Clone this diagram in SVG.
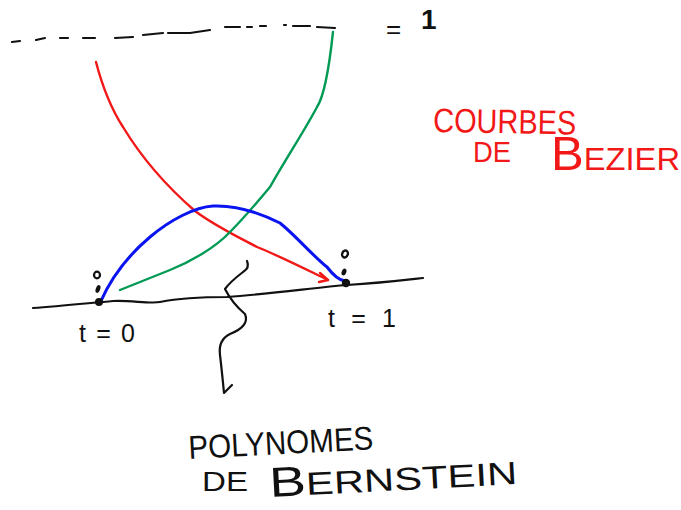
<svg xmlns="http://www.w3.org/2000/svg" width="681" height="510" viewBox="0 0 681 510">
<style>
.ink{fill:none;stroke:#111;stroke-width:2.2;stroke-linecap:round;stroke-linejoin:round}
.red{fill:none;stroke:#f21818;stroke-width:2.4;stroke-linecap:round;stroke-linejoin:round}
.grn{fill:none;stroke:#009a55;stroke-width:2.4;stroke-linecap:round;stroke-linejoin:round}
.blu{fill:none;stroke:#0a14f0;stroke-width:3;stroke-linecap:round;stroke-linejoin:round}
.t{font-family:"Liberation Sans",Arial,sans-serif;fill:#111}
.tr{font-family:"Liberation Sans",Arial,sans-serif;fill:#f21818}
.dot{fill:#111}
</style>
<rect width="681" height="510" fill="#fff"/>
<g id="top-line">
<path class="ink" d="M12 42 L20 41 M36 40 L45 38 M60 38 L68 38 M83 38 L95 38 M115 38 L133 37 M143 35 L163 33 M168 33 L190 33 L210 30 M225 27 L240 27 M247 27 L252 27 M260 26 L266 26 M284 25 L286 25 M293 26 L310 26 M317 27 L335 28"/>
<text class="t" x="386" y="38" font-size="26">=</text>
<text class="t" x="421" y="29" font-size="28" font-weight="bold">1</text>
</g>
<g id="axis">
<path class="ink" d="M33 308 C60 306 90 303 113 301 C130 300 150 304 160 302 C175 299 190 297 227 297 C270 294 320 287 347 285 C380 283 405 280 423 278"/>
</g>
<g id="connectors">
<path class="red" d="M96 62 C102 85 112 110 123 127 C140 155 165 185 195 211 C215 226 240 238 257 247 C275 254 295 264 328 280"/>
<path class="red" d="M320 273 L328 280 L319 282"/>
<path class="grn" d="M333 32 C330 60 325 95 317 107 C305 130 285 160 270 187 C255 205 240 222 230 232 C215 248 190 262 170 270 C150 278 135 284 120 290"/>
<path class="blu" d="M100 303 C110 280 125 258 150 237 C170 220 195 207 213 206 C235 205 260 213 280 223 C295 235 315 258 327 267 C333 275 338 280 345 281"/>
<path class="ink" d="M247 261 Q250 268 243 272 Q230 282 225 289 Q232 303 245 314 Q250 326 230 334 Q218 340 220 355 Q222 372 224 393 L232 385"/>
</g>
<g id="t0">
<circle class="dot" cx="99" cy="302" r="4"/>
<ellipse class="dot" cx="98" cy="289" rx="2.2" ry="4" transform="rotate(20 98 289)"/>
<ellipse cx="97" cy="275" rx="3" ry="3.3" fill="none" stroke="#111" stroke-width="2.2"/>
<text class="t" x="79" y="342" font-size="25" textLength="56" lengthAdjust="spacing">t=0</text>
</g>
<g id="t1">
<circle class="dot" cx="346" cy="283" r="4.2"/>
<ellipse class="dot" cx="344" cy="272" rx="2.3" ry="3.5" transform="rotate(20 344 272)"/>
<ellipse cx="345" cy="254" rx="2.8" ry="3.5" fill="none" stroke="#111" stroke-width="2.4" transform="rotate(20 345 254)"/>
<text class="t" x="328" y="327" font-size="25" textLength="68" lengthAdjust="spacing">t=1</text>
</g>
<g id="courbes">
<text class="tr" x="433" y="132" font-size="34" textLength="143" lengthAdjust="spacingAndGlyphs" transform="rotate(1 433 132)">COURBES</text>
<text class="tr" x="473" y="162" font-size="30" textLength="38" lengthAdjust="spacingAndGlyphs">DE</text>
<text class="tr" x="551" y="170" font-size="32" textLength="129" lengthAdjust="spacingAndGlyphs"><tspan font-size="48">B</tspan>EZIER</text>
</g>
<g id="bernstein">
<text class="t" x="189" y="459" font-size="33" textLength="185" lengthAdjust="spacingAndGlyphs" transform="rotate(-3 189 459)">POLYNOMES</text>
<text class="t" x="202" y="491" font-size="28" textLength="46" lengthAdjust="spacingAndGlyphs">DE</text>
<text class="t" x="270" y="497" font-size="32" textLength="248" lengthAdjust="spacingAndGlyphs" transform="rotate(-3 270 497)"><tspan font-size="42">B</tspan>ERNSTEIN</text>
</g>
</svg>
